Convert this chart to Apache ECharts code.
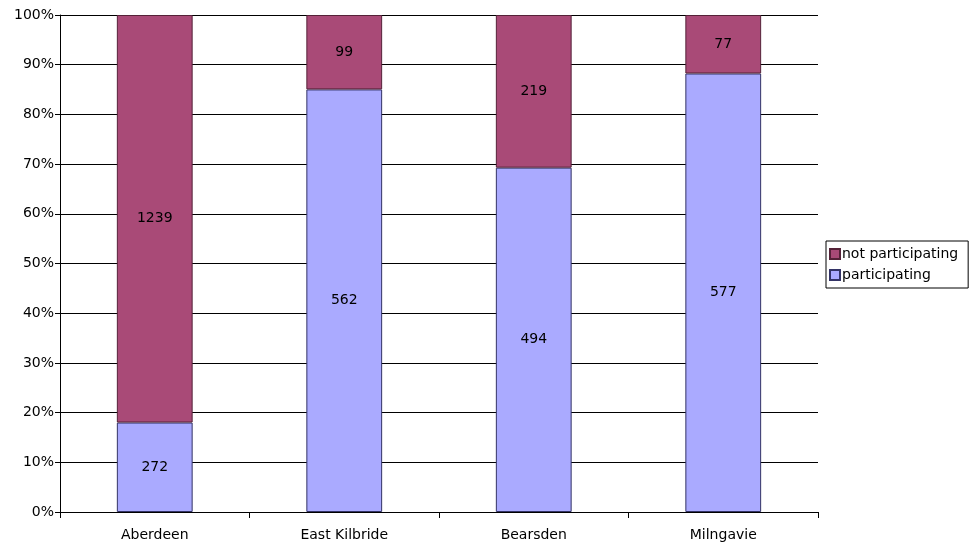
<!DOCTYPE html>
<html>
<head>
<meta charset="utf-8">
<script src="https://cdn.jsdelivr.net/npm/echarts@6/dist/echarts.min.js"></script>
<style>
html, body { margin: 0; padding: 0; background: #fff; }
#main { width: 978px; height: 546px; }
</style>
</head>
<body>
<div id="main"></div>
<script>
var towns = ['Aberdeen', 'East Kilbride', 'Bearsden', 'Milngavie'];
var participating = [272, 562, 494, 577];
var notParticipating = [1239, 99, 219, 77];
var yTicks = ['0%', '10%', '20%', '30%', '40%', '50%', '60%', '70%', '80%', '90%', '100%'];

function share(arr, i) {
    return arr[i] / (participating[i] + notParticipating[i]) * 100;
}

var partData = [];
var notData = [];
for (var i = 0; i < towns.length; i++) {
    partData.push({value: share(participating, i), raw: participating[i]});
    notData.push({value: share(notParticipating, i), raw: notParticipating[i]});
}

var font = 'DejaVu Sans';
var chart = echarts.init(document.getElementById('main'));
chart.setOption({
    animation: false,
    textStyle: {fontFamily: font},
    grid: {left: 60, right: 160, top: 15, bottom: 34},
    legend: {
        orient: 'vertical',
        left: 826,
        top: 241,
        data: ['not participating', 'participating'],
        itemWidth: 10,
        itemHeight: 10,
        itemGap: 7,
        padding: [6, 10, 6, 3],
        borderColor: '#000',
        borderWidth: 1,
        borderRadius: 0,
        icon: 'rect',
        textStyle: {fontSize: 14, color: '#000', padding: [0, 0, 0, -3]}
    },
    xAxis: {
        type: 'category',
        data: towns,
        axisLine: {lineStyle: {color: '#000', width: 1}},
        axisTick: {show: true, length: 6, lineStyle: {color: '#000'}},
        axisLabel: {color: '#000', fontSize: 14, margin: 16}
    },
    yAxis: {
        type: 'value',
        min: 0,
        max: 100,
        interval: 10,
        axisLine: {show: true, lineStyle: {color: '#000'}},
        axisTick: {show: true, length: 5, lineStyle: {color: '#000'}},
        axisLabel: {
            color: '#000',
            fontSize: 14,
            margin: 6,
            formatter: function (v) { return yTicks[Math.round(v / 10)]; }
        },
        splitLine: {show: true, lineStyle: {color: '#000', width: 1}}
    },
    series: [
        {
            name: 'participating',
            type: 'bar',
            stack: 'all',
            barWidth: '40%',
            data: partData,
            itemStyle: {color: '#aaaaff', borderColor: '#333366', borderWidth: 1},
            label: {
                show: true,
                position: 'inside',
                color: '#000',
                fontSize: 14,
                formatter: function (p) { return p.data.raw; }
            }
        },
        {
            name: 'not participating',
            type: 'bar',
            stack: 'all',
            barWidth: '40%',
            data: notData,
            itemStyle: {color: '#a94a77', borderColor: '#552238', borderWidth: 1},
            label: {
                show: true,
                position: 'inside',
                color: '#000',
                fontSize: 14,
                formatter: function (p) { return p.data.raw; }
            }
        }
    ]
});
</script>
</body>
</html>
